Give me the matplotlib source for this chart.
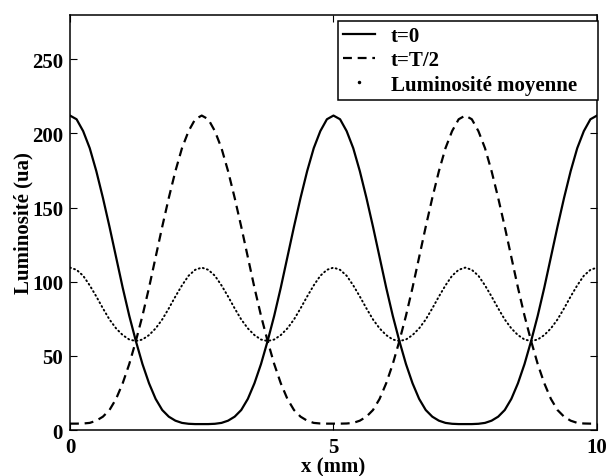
import matplotlib
matplotlib.use('Agg')
import matplotlib.pyplot as plt
from matplotlib.lines import Line2D
import numpy as np

# x positions (mm), step 0.125
x_mm = np.linspace(0, 10, 81)

# brightness at t=0
lum_t0 = [212, 209.5, 201.5, 190, 174.5, 156.5, 137, 116.5, 96, 77, 60, 44.5, 31.5, 21, 13.5, 9, 6.3, 4.8, 4.2, 4.0, 4.0,
          4.0, 4.2, 4.8, 6.3, 9, 13.5, 21, 31.5, 44.5, 60, 77, 96, 116.5, 137, 156.5, 174.5, 190, 201.5, 209.5, 212,
          209.5, 201.5, 190, 174.5, 156.5, 137, 116.5, 96, 77, 60, 44.5, 31.5, 21, 13.5, 9, 6.3, 4.8, 4.2, 4.0, 4.0,
          4.0, 4.2, 4.8, 6.3, 9, 13.5, 21, 31.5, 44.5, 60, 77, 96, 116.5, 137, 156.5, 174.5, 190, 201.5, 209.5, 212]

# brightness at t=T/2
lum_t_half = [4.3, 4.3, 4.4, 4.8, 6.3, 9, 13.5, 21, 31.5, 44.5, 60, 77, 96, 116.5, 137, 156.5, 174.5, 190, 201.5, 209.5, 212,
              209.5, 201.5, 190, 174.5, 156.5, 137, 116.5, 96, 77, 60, 44.5, 31.5, 21, 13.5, 9, 6.3, 4.8, 4.4, 4.3, 4.3,
              4.3, 4.4, 4.8, 6.3, 9, 13.5, 21, 31.5, 44.5, 60, 77, 96, 116.5, 137, 156.5, 174.5, 190, 201.5, 209.5, 212,
              209.5, 201.5, 190, 174.5, 156.5, 137, 116.5, 96, 77, 60, 44.5, 31.5, 21, 13.5, 9, 6.3, 4.8, 4.4, 4.3, 4.3]

# mean brightness
lum_mean = [109.5, 108, 104, 97.5, 90, 82, 74.5, 68.5, 64, 61, 60, 61, 64, 68.5, 74.5, 82, 90, 97.5, 104, 108,
            109.5, 108, 104, 97.5, 90, 82, 74.5, 68.5, 64, 61, 60, 61, 64, 68.5, 74.5, 82, 90, 97.5, 104, 108,
            109.5, 108, 104, 97.5, 90, 82, 74.5, 68.5, 64, 61, 60, 61, 64, 68.5, 74.5, 82, 90, 97.5, 104, 108,
            109.5, 108, 104, 97.5, 90, 82, 74.5, 68.5, 64, 61, 60, 61, 64, 68.5, 74.5, 82, 90, 97.5, 104, 108,
            109.5]

labels = ['t=0', 't=T/2', 'Luminosité moyenne']

plt.rcParams['font.family'] = ['Liberation Serif', 'DejaVu Serif']
plt.rcParams['font.weight'] = 'bold'
plt.rcParams['font.size'] = 15

fig = plt.figure(figsize=(6.08, 4.77), dpi=100)
ax = fig.add_axes([0.1151, 0.0964, 0.8668, 0.8707])

dash = (0, (4, 2.6))
ax.plot(x_mm, lum_t0, color='k', lw=1.6, solid_joinstyle='round')
ax.plot(x_mm, lum_t_half, color='k', lw=1.6, linestyle=dash)
ax.plot(x_mm, lum_mean, color='k', lw=1.4, linestyle=(0, (0.5, 1.7)), dash_capstyle='round')

ax.set_xlim(0, 10)
ax.set_ylim(0, 280)
ax.set_xticks([0, 5, 10])
ax.set_yticks([0, 50, 100, 150, 200, 250])
ax.tick_params(direction='in', length=5, width=0.8, top=True, right=True, labelsize=15, pad=5)
for sp in ax.spines.values():
    sp.set_linewidth(1.1)

ax.set_xlabel('x (mm)', fontsize=15, fontweight='bold', labelpad=0)
ax.set_ylabel('Luminosité (ua)', fontsize=15, fontweight='bold', labelpad=-1)

# legend proxies
h = [Line2D([], [], color='k', lw=1.6),
     Line2D([], [], color='k', lw=1.6, linestyle=dash),
     Line2D([], [], color='k', linestyle='none', marker='.', markersize=3)]
leg = ax.legend(h, labels, loc='upper left', bbox_to_anchor=(0.5085, 0.0, 0.4934, 0.9848),
                mode='expand', borderaxespad=0, fancybox=False, framealpha=1, edgecolor='k',
                handlelength=1.55, handletextpad=0.75, labelspacing=0.2,
                borderpad=0.25, prop={'weight': 'bold', 'size': 15})
leg.get_frame().set_linewidth(1.1)

fig.savefig('out.png', dpi=100)
